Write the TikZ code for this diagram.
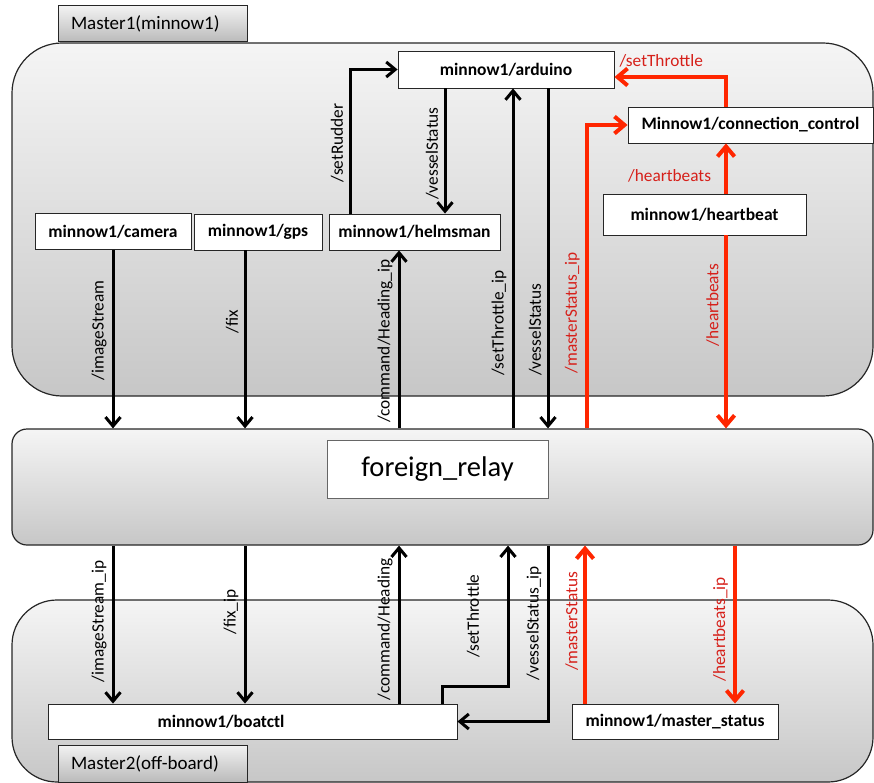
\documentclass[tikz,border=0pt]{standalone}
\usepackage{fontspec}
\setmainfont{Carlito}
\usetikzlibrary{arrows.meta, calc}
\definecolor{hbred}{RGB}{255,38,0}
\definecolor{hbtext}{RGB}{214,32,26}
\newcommand{\boxfont}{\fontsize{17.5}{20}\selectfont\bfseries}
\newcommand{\topicfont}{\fontsize{17.3}{20}\selectfont}
\newcommand{\relayfont}{\fontsize{28.5}{32}\selectfont}
\newcommand{\tabfont}{\fontsize{19}{22}\selectfont}
\tikzset{
  panel/.style={draw=black!85, line width=1.2pt, top color=black!4, bottom color=black!22,
    rounded corners=50pt, minimum width=861pt, inner sep=0pt},
  tabbox/.style={draw=black!85, line width=1pt, top color=black!5, bottom color=black!27,
    font=\tabfont, text width=163pt, inner xsep=13pt, align=left},
  proc/.style={draw=black!85, line width=0.9pt, fill=white, font=\boxfont,
    minimum height=36pt, inner sep=0pt},
  topic/.style={font=\topicfont, inner sep=5pt},
  vtopic/.style={topic, rotate=90, anchor=south},
  hbtopic/.style={vtopic, text=hbtext},
  msg/.style={line width=3pt, -{Straight Barb[length=9pt, width=15pt]}},
  hb/.style={line width=4pt, hbred, -{Straight Barb[length=10pt, width=17pt]}}
}

\begin{document}
\begin{tikzpicture}[x=1pt, y=-1pt]
  \useasboundingbox (0,0) rectangle (874,783);

  % ---------------- group panels ----------------
  \node[panel, minimum height=353pt] (master1) at (442.5,219.5) {};
  \node[panel, minimum height=116pt, rounded corners=15pt] (relaybar) at (442.5,487) {};
  \node[panel, minimum height=182pt, rounded corners=45pt] (master2) at (442.5,691) {};
  \node[tabbox, minimum height=36pt] (tab1) at (152.5,24) {Master1(minnow1)};
  \node[tabbox, minimum height=37pt] (tab2) at (152.5,763.5) {Master2(off-board)};

  % ---------------- Master1 nodes ----------------
  \node[proc, minimum width=216pt, minimum height=37pt] (arduino) at (506,69.5) {minnow1/arduino};
  \node[proc, minimum width=245pt] (conn) at (750.5,125) {Minnow1/connection\_control};
  \node[proc, minimum width=203pt, minimum height=41pt] (heartbeat) at (704.5,214.5) {minnow1/heartbeat};
  \node[proc, minimum width=156pt] (camera) at (113,231.5) {minnow1/camera};
  \node[proc, minimum width=128pt] (gps) at (258,232) {minnow1/gps};
  \node[proc, minimum width=171pt] (helmsman) at (414.5,232) {minnow1/helmsman};

  % relay box inside the band
  \node[proc, minimum width=221pt, minimum height=58pt, font=\relayfont, draw=black!60] (relay) at (437.5,469) {foreign\_relay};

  % ---------------- Master2 nodes ----------------
  \node[proc, minimum width=409pt, minimum height=35pt] (boatctl) at (252.5,721.5) {minnow1/boatctl\hspace*{63pt}};
  \node[proc, minimum width=206pt, minimum height=35pt] (masterstatus) at (675,721.5) {minnow1/master\_status};

  % ---------------- Master1 topics ----------------
  \draw[msg] (camera.south) -- (camera.south |- relaybar.north)
    node[vtopic, pos=0.45] {/imageStream};
  \draw[msg] ([xshift=-13pt]gps.south) -- ($(gps.south |- relaybar.north)+(-13,0)$)
    node[vtopic, pos=0.4] {/fix};
  \draw[msg] ($(helmsman.south |- relaybar.north)+(-15.5,0)$) -- ([xshift=-15.5pt]helmsman.south)
    node[vtopic, pos=0.49] {/command/Heading\_ip};
  \draw[msg] ([xshift=-64.5pt]helmsman.north) |- (arduino.west)
    node[vtopic, pos=0.245] {/setRudder};
  \draw[msg] ([xshift=-61pt]arduino.south) -- ($(arduino.south |- helmsman.north)+(-61,0)$)
    node[vtopic, pos=0.52] {/vesselStatus};
  \draw[msg] ($(arduino.south |- relaybar.north)+(7,0)$) -- ([xshift=7pt]arduino.south)
    node[vtopic, pos=0.31] {/setThrottle\_ip};
  \draw[msg] ([xshift=42pt]arduino.south) -- ($(arduino.south |- relaybar.north)+(42,0)$)
    node[vtopic, pos=0.71] {/vesselStatus};

  % heartbeat / master status links
  \draw[hb] ($(conn.west |- relaybar.north)+(-41,0)$) |- (conn.west)
    node[hbtopic, pos=0.19] {/masterStatus\_ip};
  \draw[hb] ([xshift=-24.5pt]conn.north) |- ([yshift=-7.5pt]arduino.east)
    node[topic, text=hbtext, above=3pt, pos=0.79] {/setThrottle};
  \draw[hb] ([xshift=21.5pt]heartbeat.north) -- ($(heartbeat.north |- conn.south)+(21.5,0)$)
    node[topic, text=hbtext, anchor=east, xshift=-8pt, pos=0.35] {/heartbeats};
  \draw[hb] ([xshift=21.5pt]heartbeat.south) -- ($(heartbeat.south |- relaybar.north)+(21.5,0)$)
    node[hbtopic, pos=0.36] {/heartbeats};

  % ---------------- Master2 topics ----------------
  \draw[msg] (camera.south |- relaybar.south) -- (camera.south |- boatctl.north)
    node[vtopic, pos=0.48] {/imageStream\_ip};
  \draw[msg] ($(gps.south |- relaybar.south)+(-13,0)$) -- ($(gps.south |- boatctl.north)+(-13,0)$)
    node[vtopic, pos=0.42] {/fix\_ip};
  \draw[msg] ($(helmsman.south |- boatctl.north)+(-15.5,0)$) -- ($(helmsman.south |- relaybar.south)+(-15.5,0)$)
    node[vtopic, pos=0.47] {/command/Heading};
  \draw[msg] ([xshift=-15pt]boatctl.north east) -- ++(0,-17)
    -| ($(arduino.south |- relaybar.south)+(2,0)$)
    node[vtopic, pos=0.75, yshift=22pt] {/setThrottle};
  \draw[msg] ($(arduino.south |- relaybar.south)+(42,0)$) |- (boatctl.east)
    node[vtopic, pos=0.22] {/vesselStatus\_ip};

  \draw[hb] ([xshift=-90pt]masterstatus.north) -- ($(masterstatus.north |- relaybar.south)+(-90,0)$)
    node[hbtopic, pos=0.52] {/masterStatus};
  \draw[hb] ($(masterstatus.north |- relaybar.south)+(60,0)$) -- ([xshift=60pt]masterstatus.north)
    node[hbtopic, pos=0.53] {/heartbeats\_ip};
\end{tikzpicture}
\end{document}
